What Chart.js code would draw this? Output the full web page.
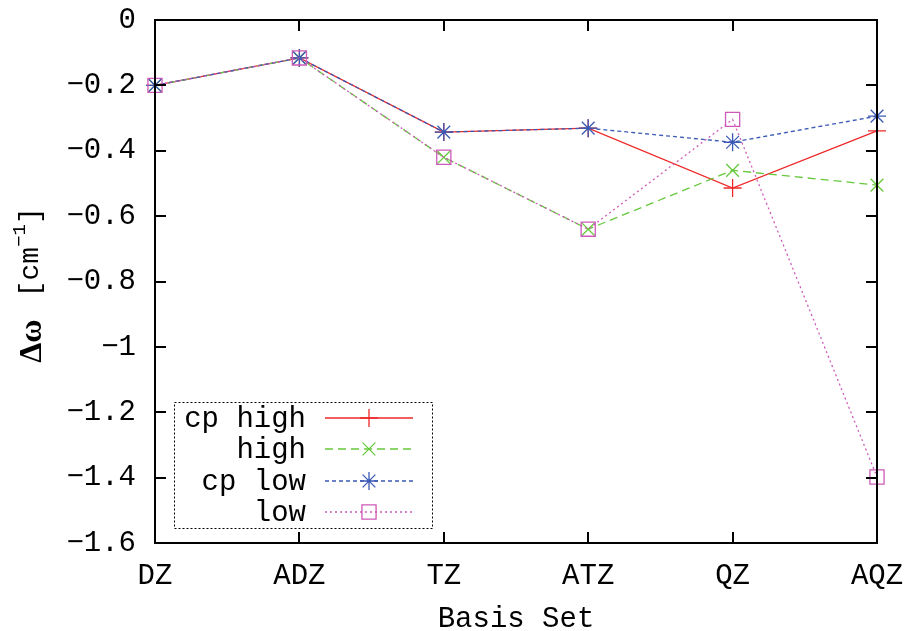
<!DOCTYPE html>
<html>
<head>
<meta charset="utf-8">
<script src="https://cdn.jsdelivr.net/npm/chart.js@4"></script>
<style>
  html, body { margin: 0; padding: 0; background: #fff; }
  #wrap { width: 906px; height: 631px; }
</style>
</head>
<body>
<div id="wrap"><canvas id="chart"></canvas></div>
<script>
// data
const basisSets = ["DZ", "ADZ", "TZ", "ATZ", "QZ", "AQZ"];
const cpHigh = [-0.200, -0.116, -0.343, -0.331, -0.514, -0.339];
const high   = [-0.200, -0.116, -0.420, -0.640, -0.460, -0.505];
const cpLow  = [-0.200, -0.116, -0.343, -0.331, -0.374, -0.294];
const low    = [-0.200, -0.116, -0.420, -0.640, -0.304, -1.398];
const yTicks = [0, -0.2, -0.4, -0.6, -0.8, -1, -1.2, -1.4, -1.6];

const MONO = "'Liberation Mono', 'DejaVu Sans Mono', monospace";
const FS = 29;

const RED = "rgb(238,40,40)";
const GREEN = "rgb(102,200,60)";
const BLUE = "rgb(60,90,180)";
const PINK = "rgb(205,90,185)";

function fmt(v){
  let s = String(Number(v.toFixed(1)));
  return s.replace("-", "\u2212");
}

const series = [
  {label: "cp high", data: cpHigh, color: RED,   dash: [],     point: "cross",    r: 9,  order: 4},
  {label: "high",    data: high,   color: GREEN, dash: [8, 5], point: "crossRot", r: 9,  order: 3},
  {label: "cp low",  data: cpLow,  color: BLUE,  dash: [4, 3], point: "star",     r: 9,  order: 2},
  {label: "low",     data: low,    color: PINK,  dash: [2, 3], point: "rect",     r: 10, order: 1}
];

// frame, inward ticks, axis titles and gnuplot style legend
const gnuplotBits = {
  id: "gnuplotBits",
  afterDraw(c){
    const ctx = c.ctx;
    const a = c.chartArea;
    const xs = c.scales.x, ys = c.scales.y;
    ctx.save();
    ctx.strokeStyle = "#000";
    ctx.lineWidth = 2;
    ctx.setLineDash([]);
    ctx.strokeRect(a.left, a.top, a.right - a.left, a.bottom - a.top);
    ctx.beginPath();
    yTicks.forEach(v => {
      const y = Math.round(ys.getPixelForValue(v));
      ctx.moveTo(a.left, y); ctx.lineTo(a.left + 11, y);
      ctx.moveTo(a.right, y); ctx.lineTo(a.right - 11, y);
    });
    basisSets.forEach((b, i) => {
      const x = Math.round(xs.getPixelForValue(i));
      ctx.moveTo(x, a.bottom); ctx.lineTo(x, a.bottom - 11);
      ctx.moveTo(x, a.top); ctx.lineTo(x, a.top + 11);
    });
    ctx.stroke();

    // x axis title
    ctx.fillStyle = "#000";
    ctx.font = FS + "px " + MONO;
    ctx.textAlign = "center";
    ctx.textBaseline = "middle";
    ctx.fillText("Basis Set", (a.left + a.right) / 2, 619);

    // y axis title
    ctx.save();
    ctx.translate(31, 285);
    ctx.rotate(-Math.PI / 2);
    ctx.fillStyle = "#000";
    ctx.textBaseline = "middle";
    ctx.textAlign = "left";
    const f1 = "bold 32px 'Liberation Serif', 'DejaVu Serif', serif";
    const f2 = "28px " + MONO;
    const f3 = "19px " + MONO;
    const gap = 22;
    ctx.font = f1; const w1 = ctx.measureText("\u0394\u03c9").width;
    ctx.font = f2; const w2 = ctx.measureText("[cm").width;
    ctx.font = f3; const w3 = ctx.measureText("\u22121").width;
    ctx.font = f2; const w4 = ctx.measureText("]").width;
    let x = -(w1 + gap + w2 + w3 + w4) / 2;
    ctx.font = f1; ctx.fillText("\u0394\u03c9", x, 2); x += w1 + gap;
    ctx.font = f2; ctx.fillText("[cm", x, 0); x += w2;
    ctx.font = f3; ctx.fillText("\u22121", x, -11); x += w3;
    ctx.font = f2; ctx.fillText("]", x, 0);
    ctx.restore();

    // legend
    ctx.lineWidth = 1;
    ctx.setLineDash([2, 2]);
    ctx.strokeStyle = "#000";
    ctx.strokeRect(174.5, 402.5, 258, 126);
    const rows = [418, 449, 481, 512];
    series.forEach((s, i) => {
      const y = rows[i];
      ctx.font = FS + "px " + MONO;
      ctx.fillStyle = "#000";
      ctx.textAlign = "right";
      ctx.textBaseline = "middle";
      ctx.fillText(s.label, 306, y + 1);
      ctx.strokeStyle = s.color;
      ctx.fillStyle = "rgba(0,0,0,0)";
      ctx.lineWidth = 1.3;
      ctx.setLineDash(s.dash);
      ctx.beginPath();
      ctx.moveTo(325, y); ctx.lineTo(413, y);
      ctx.stroke();
      ctx.setLineDash([]);
      Chart.helpers.drawPoint(ctx, {pointStyle: s.point, radius: s.r, borderWidth: 1.3}, 369, y);
    });
    ctx.restore();
  }
};

new Chart(document.getElementById("chart"), {
  type: "line",
  data: {
    labels: basisSets,
    datasets: series.map(s => ({
      label: s.label,
      data: s.data,
      borderColor: s.color,
      backgroundColor: "rgba(0,0,0,0)",
      borderWidth: 1.3,
      borderDash: s.dash,
      pointStyle: s.point,
      pointRadius: s.r,
      pointBorderColor: s.color,
      pointBorderWidth: 1.3,
      pointBackgroundColor: "rgba(0,0,0,0)",
      tension: 0,
      clip: false,
      order: s.order
    }))
  },
  options: {
    responsive: true,
    maintainAspectRatio: false,
    animation: false,
    layout: { padding: { top: 20, right: 29, left: 0, bottom: 0 } },
    plugins: {
      legend: { display: false },
      tooltip: { enabled: false }
    },
    scales: {
      x: {
        offset: false,
        grid: { display: false, drawTicks: false },
        border: { display: false },
        ticks: { color: "#000", font: { family: MONO, size: FS }, padding: 16, maxRotation: 0, autoSkip: false },
        afterFit(scale){
          scale.height = 88;
          scale.paddingLeft = 0; scale.paddingRight = 0;
        }
      },
      y: {
        min: -1.6,
        max: 0,
        afterBuildTicks(scale){ scale.ticks = yTicks.map(v => ({value: v})); },
        grid: { display: false, drawTicks: false },
        border: { display: false },
        ticks: { color: "#000", font: { family: MONO, size: FS }, padding: 19, callback: v => fmt(v) },
        afterFit(scale){
          scale.width = 155;
          scale.paddingTop = 0; scale.paddingBottom = 0;
        }
      }
    }
  },
  plugins: [gnuplotBits]
});
</script>
</body>
</html>
